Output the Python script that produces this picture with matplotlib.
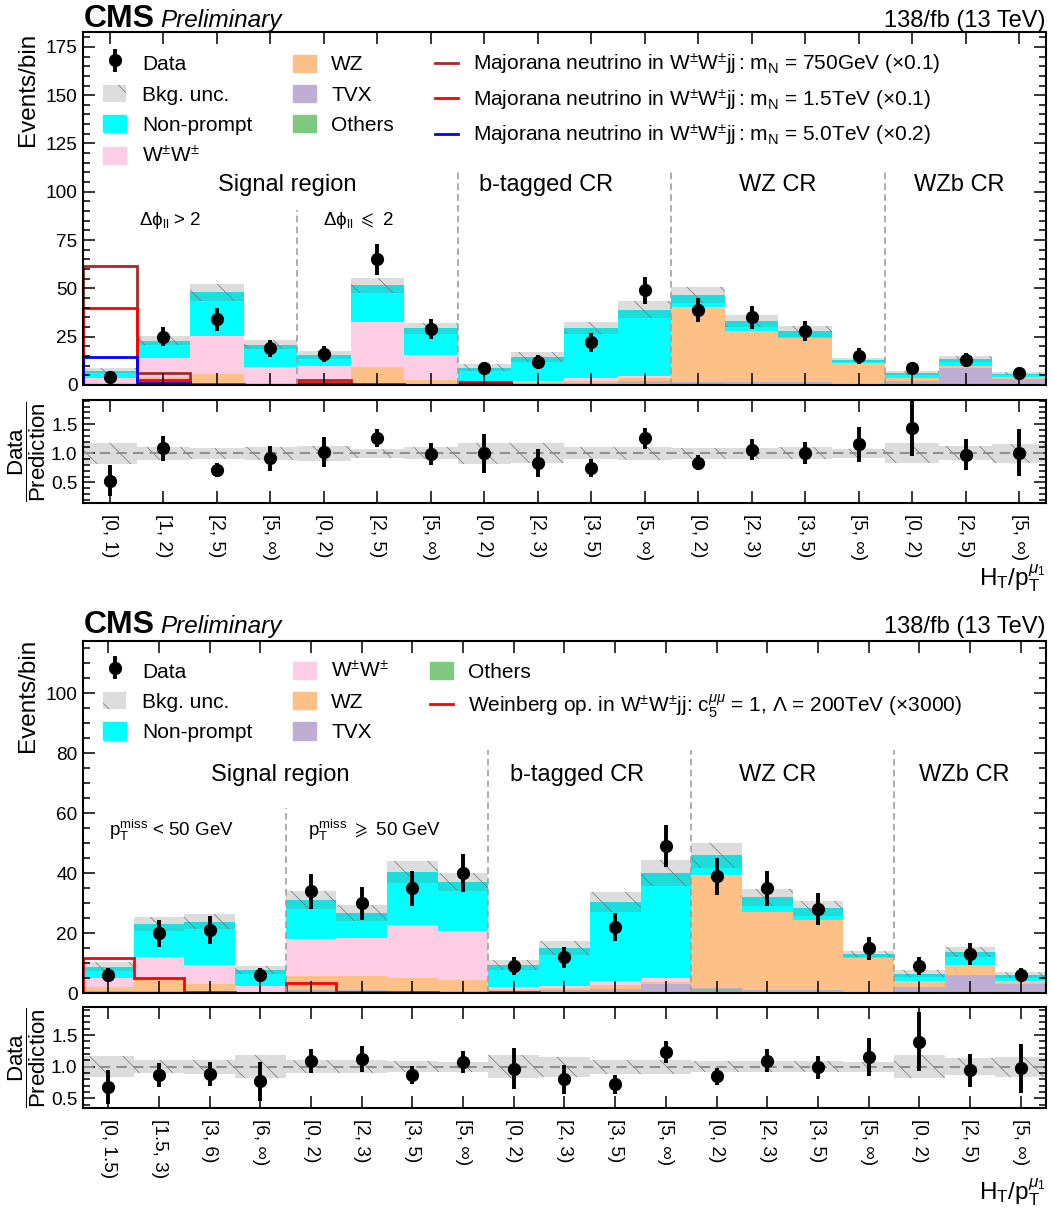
import numpy as np
import matplotlib
matplotlib.use("Agg")
import matplotlib.pyplot as plt
import matplotlib.ticker as mticker
from matplotlib.legend_handler import HandlerBase
from matplotlib.patches import Patch
from matplotlib.lines import Line2D
from matplotlib.transforms import blended_transform_factory

plt.rcParams["font.family"] = ["Liberation Sans", "DejaVu Sans"]
plt.rcParams["mathtext.fontset"] = "custom"
plt.rcParams["mathtext.rm"] = "Liberation Sans"
plt.rcParams["mathtext.it"] = "Liberation Sans:italic"
plt.rcParams["mathtext.bf"] = "Liberation Sans:bold"
plt.rcParams["mathtext.sf"] = "Liberation Sans"
plt.rcParams["mathtext.fallback"] = "stix"
plt.rcParams["hatch.linewidth"] = 0.5

# ---------------- Majorana neutrino selection ----------------
maj_bins = ["[0, 1)", "[1, 2)", "[2, 5)", "[5, ∞)", "[0, 2)", "[2, 5)", "[5, ∞)",
            "[0, 2)", "[2, 3)", "[3, 5)", "[5, ∞)", "[0, 2)", "[2, 3)", "[3, 5)", "[5, ∞)",
            "[0, 2)", "[2, 5)", "[5, ∞)"]
maj_others = [0.1, 0.1, 0.1, 0.05, 0.1, 0.2, 0.1, 0.1, 0.1, 0.1, 0.2, 1.2, 0.3, 0.3, 0.1, 0.1, 0.2, 0.1]
maj_tvx = [0.1, 0.2, 0.2, 0.1, 0.3, 0.4, 0.2, 0.5, 0.8, 1.0, 2.0, 0.6, 1.0, 1.0, 0.5, 2.1, 8.4, 2.9]
maj_wz = [1.0, 4.0, 5.4, 1.05, 1.6, 8.6, 2.3, 0.3, 0.6, 1.2, 1.3, 38.3, 26.5, 23.0, 10.7, 1.4, 1.3, 1.3]
maj_ww = [2.6, 9.5, 19.9, 8.3, 7.8, 23.6, 12.9, 0.4, 0.7, 1.2, 1.2, 0.2, 0.2, 0.1, 0.1, 0.1, 0.1, 0.05]
maj_nonprompt = [3.7, 9.2, 22.4, 11.3, 5.9, 18.7, 13.8, 7.7, 12.3, 26.0, 34.3, 6.2, 5.0, 3.4, 1.6, 2.6, 3.3, 1.6]
maj_unc_rel = [0.18, 0.11, 0.09, 0.11, 0.13, 0.08, 0.10, 0.18, 0.17, 0.10, 0.11, 0.09, 0.09, 0.10, 0.08, 0.17, 0.12, 0.16]
maj_data = [4, 25, 34, 19, 16, 65, 29, 9, 12, 22, 49, 39, 35, 28, 15, 9, 13, 6]
maj_data_err = [2.0, 5.0, 5.8, 4.4, 4.0, 8.1, 5.4, 3.0, 3.5, 4.7, 7.0, 6.2, 5.9, 5.3, 3.9, 3.0, 3.6, 2.4]
sig_750 = [61.5, 6.0, 0.3, 0.1, 2.6, 0.5, 0.1, 1.0, 0.2, 0.1, 0.1, 0.1, 0.05, 0.05, 0.02, 0.05, 0.05, 0.02]
sig_1500 = [40.0, 2.6, 0.2, 0.05, 1.2, 0.3, 0.05, 1.7, 0.2, 0.1, 0.05, 0.05, 0.02, 0.02, 0.01, 0.02, 0.02, 0.01]
sig_5000 = [14.5, 0.9, 0.1, 0.02, 0.4, 0.1, 0.02, 0.5, 0.1, 0.05, 0.02, 0.02, 0.01, 0.01, 0.0, 0.01, 0.01, 0.0]

# ---------------- Weinberg operator selection ----------------
wbg_bins = ["[0, 1.5)", "[1.5, 3)", "[3, 6)", "[6, ∞)", "[0, 2)", "[2, 3)", "[3, 5)", "[5, ∞)",
            "[0, 2)", "[2, 3)", "[3, 5)", "[5, ∞)", "[0, 2)", "[2, 3)", "[3, 5)", "[5, ∞)",
            "[0, 2)", "[2, 5)", "[5, ∞)"]
wbg_others = [0.8, 0.5, 0.3, 0.1, 0.8, 0.6, 0.5, 0.3, 0.3, 0.2, 0.1, 0.2, 1.3, 0.3, 0.3, 0.1, 0.1, 0.1, 0.1]
wbg_tvx = [0.1, 0.2, 0.2, 0.1, 0.3, 0.4, 0.4, 0.4, 0.6, 0.8, 1.2, 2.8, 0.6, 0.7, 0.7, 0.5, 1.9, 6.0, 2.9]
wbg_wz = [1.3, 3.7, 2.5, 0.4, 4.8, 4.9, 4.3, 3.7, 0.5, 0.7, 1.5, 0.6, 37.3, 26.1, 23.3, 11.0, 1.9, 3.2, 0.9]
wbg_ww = [2.8, 7.8, 6.4, 1.9, 12.2, 12.4, 17.6, 16.4, 0.6, 0.7, 1.4, 1.6, 0.2, 0.1, 0.1, 0.1, 0.05, 0.05, 0.05]
wbg_nonprompt = [3.9, 10.9, 14.5, 5.3, 13.0, 8.4, 17.5, 16.4, 7.3, 12.6, 26.3, 34.8, 6.6, 4.8, 3.9, 1.3, 2.5, 4.4, 2.2]
wbg_unc_rel = [0.17, 0.10, 0.11, 0.18, 0.10, 0.10, 0.09, 0.08, 0.18, 0.16, 0.11, 0.11, 0.09, 0.09, 0.09, 0.08, 0.18, 0.13, 0.16]
wbg_data = [6, 20, 21, 6, 34, 30, 35, 40, 9, 12, 22, 49, 39, 35, 28, 15, 9, 13, 6]
wbg_data_err = [2.4, 4.5, 4.6, 2.4, 5.8, 5.5, 5.9, 6.3, 3.0, 3.5, 4.7, 7.0, 6.2, 5.9, 5.3, 3.9, 3.0, 3.6, 2.4]
sig_weinberg = [11.7, 5.2, 0.3, 0.1, 3.5, 0.6, 0.3, 0.2, 0.4, 0.2, 0.1, 0.1, 0.1, 0.05, 0.05, 0.02, 0.05, 0.05, 0.02]

C_OTHERS = "#7fc97f"
C_TVX = "#beaed4"
C_WZ = "#fdc086"
C_WW = "#fccde5"
C_NP = "#00ffff"
UNC_FACE = (0.46, 0.46, 0.46, 0.25)
UNC_HATCH = (0.45, 0.45, 0.45)

WW = r"W$^{\pm}$W$^{\pm}$"
XLABEL = r"H$_{\rm T}$/p$_{\rm T}^{\mu_{1}}$"

fig = plt.figure(figsize=(10.51, 12.16), dpi=100)


class DataHandler(HandlerBase):
    """Legend entry for data: marker with a vertical error bar."""

    def create_artists(self, legend, orig, xd, yd, width, height, fontsize, trans):
        x = xd + width / 2
        bar = Line2D([x, x], [yd - 0.05 * height, yd + 1.05 * height], color="black",
                     lw=2.8, transform=trans)
        mk = Line2D([x], [yd + height / 2], marker="o", color="black", ms=8.5, lw=0,
                    transform=trans)
        return [bar, mk]


def style_axis(ax):
    for s in ax.spines.values():
        s.set_linewidth(1.5)
    ax.tick_params(which="both", direction="in", top=True, right=True, width=1.1,
                   labelsize=13.7, pad=4)
    ax.tick_params(which="major", length=8.6)
    ax.tick_params(which="minor", length=5.0)
    ax.tick_params(axis="x", which="minor", bottom=False, top=False)


def draw_panel(rect_main, rect_ratio, labels, comps, unc_rel, data, err,
               ymax, ymajor, rlim, signals, regions, sublabels, dashes, handles):
    n = len(labels)
    edges = np.arange(n + 1)
    centers = edges[:-1] + 0.5
    ax = fig.add_axes(rect_main)
    rax = fig.add_axes(rect_ratio)

    # stacked backgrounds
    base = np.zeros(n)
    for vals, col in comps:
        vals = np.asarray(vals, float)
        ax.stairs(base + vals, edges, baseline=base.copy(), fill=True,
                  facecolor=col, edgecolor="none", lw=0)
        base = base + vals
    total = base
    unc = np.asarray(unc_rel) * total
    ax.stairs(total + unc, edges, baseline=total - unc, fill=True, facecolor=UNC_FACE,
              edgecolor=UNC_HATCH, hatch="\\", lw=0)

    # signal hypotheses
    for vals, col in signals:
        ax.stairs(vals, edges, color=col, lw=2.0)

    # observed data
    ax.errorbar(centers, data, yerr=err, fmt="o", color="black", ms=8.5,
                elinewidth=2.8, capsize=0, zorder=5)

    ax.set_xlim(0, n)
    ax.set_ylim(0, ymax)
    ax.set_xticks(centers)
    ax.tick_params(axis="x", labelbottom=False)
    ax.yaxis.set_major_locator(mticker.MultipleLocator(ymajor))
    ax.yaxis.set_minor_locator(mticker.MultipleLocator(5))
    style_axis(ax)

    tr = blended_transform_factory(ax.transData, ax.transAxes)
    for x, ytop in dashes:
        ax.plot([x, x], [0, ytop], transform=tr, color="#a0a0a0", lw=1.2,
                ls=(0, (4, 2.5)), zorder=1)
    for x, y, txt in regions:
        ax.text(x, y, txt, transform=tr, ha="center", va="center", fontsize=17)
    for x, y, txt in sublabels:
        ax.text(x, y, txt, transform=tr, ha="center", va="center", fontsize=13.5)

    ax.legend(handles=handles, loc="upper left", bbox_to_anchor=(0.021, 0.944),
              ncol=3, frameon=False, fontsize=15, handlelength=1.1, handleheight=0.9,
              handletextpad=0.75, columnspacing=1.95, labelspacing=0.5, borderpad=0.0,
              borderaxespad=0.0, handler_map={handles[0]: DataHandler()})

    # ratio panel
    data = np.asarray(data, float)
    rax.stairs(1 + np.asarray(unc_rel), edges, baseline=1 - np.asarray(unc_rel), fill=True,
               facecolor=UNC_FACE, edgecolor=UNC_HATCH, hatch="\\", lw=0)
    rax.axhline(1.0, color="#909090", lw=1.5, ls=(0, (5, 3)))
    rax.errorbar(centers, data / total, yerr=np.asarray(err) / total, fmt="o",
                 color="black", ms=8.5, elinewidth=2.8, capsize=0, zorder=5)
    rax.set_xlim(0, n)
    rax.set_ylim(*rlim)
    rax.set_xticks(centers)
    rax.set_xticklabels(labels, rotation=-90, fontsize=14.6, va="top", ha="center")
    rax.yaxis.set_major_locator(mticker.FixedLocator([0.5, 1.0, 1.5]))
    rax.yaxis.set_major_formatter(mticker.FormatStrFormatter("%.1f"))
    rax.yaxis.set_minor_locator(mticker.MultipleLocator(0.1))
    style_axis(rax)
    rax.tick_params(axis="x", pad=8)
    return ax, rax


def unc_patch():
    return Patch(facecolor=UNC_FACE, edgecolor=UNC_HATCH, hatch="\\", lw=0)


def build_handles(line_colors, labels):
    hs = [Line2D([0], [0], marker="o", color="black", lw=0), unc_patch(),
          Patch(color=C_NP), Patch(color=C_WW), Patch(color=C_WZ), Patch(color=C_TVX),
          Patch(color=C_OTHERS)]
    hs += [Line2D([0], [0], color=c, lw=2.0) for c in line_colors]
    for h, l in zip(hs, labels):
        h.set_label(l)
    return hs


# ---------- upper figure: Majorana neutrino ----------
maj_labels = ["Data", "Bkg. unc.", "Non-prompt", WW, "WZ", "TVX", "Others",
              r"Majorana neutrino in W$^{\pm}$W$^{\pm}$jj$\,$: m$_{\rm N}$ = 750GeV (×0.1)",
              r"Majorana neutrino in W$^{\pm}$W$^{\pm}$jj$\,$: m$_{\rm N}$ = 1.5TeV (×0.1)",
              r"Majorana neutrino in W$^{\pm}$W$^{\pm}$jj$\,$: m$_{\rm N}$ = 5.0TeV (×0.2)"]
maj_handles = build_handles(["#a52a2a", "#ff0000", "#0000ff"], maj_labels)

ax1, rax1 = draw_panel(
    [0.0790, 0.68339, 0.9162, 0.29030], [0.0790, 0.58660, 0.9162, 0.08446],
    maj_bins,
    [(maj_others, C_OTHERS), (maj_tvx, C_TVX), (maj_wz, C_WZ), (maj_ww, C_WW), (maj_nonprompt, C_NP)],
    maj_unc_rel, maj_data, maj_data_err, 182.7, 25, (0.153, 1.914),
    [(sig_750, "#a52a2a"), (sig_1500, "#ff0000"), (sig_5000, "#0000ff")],
    [(3.81, 0.567, "Signal region"), (8.65, 0.567, "b-tagged CR"), (12.99, 0.567, "WZ CR"),
     (16.37, 0.567, "WZb CR")],
    [(1.63, 0.467, r"Δϕ$_{\rm ll}$ > 2"), (5.14, 0.467, r"Δϕ$_{\rm ll}$ $\leqslant$ 2")],
    [(4, 0.496), (7, 0.603), (11, 0.603), (15, 0.603)],
    maj_handles)

# ---------- lower figure: Weinberg operator ----------
wbg_labels = ["Data", "Bkg. unc.", "Non-prompt", WW, "WZ", "TVX", "Others",
              r"Weinberg op. in W$^{\pm}$W$^{\pm}$jj: c$_{5}^{\mu\mu}$ = 1, Λ = 200TeV (×3000)"]
wbg_handles = build_handles(["#ff0000"], wbg_labels)

ax2, rax2 = draw_panel(
    [0.0790, 0.18314, 0.9162, 0.28997], [0.0790, 0.08857, 0.9162, 0.08355],
    wbg_bins,
    [(wbg_others, C_OTHERS), (wbg_tvx, C_TVX), (wbg_wz, C_WZ), (wbg_ww, C_WW), (wbg_nonprompt, C_NP)],
    wbg_unc_rel, wbg_data, wbg_data_err, 117.5, 20, (0.34, 1.95),
    [(sig_weinberg, "#ff0000")],
    [(3.89, 0.619, "Signal region"), (9.75, 0.619, "b-tagged CR"), (13.71, 0.619, "WZ CR"),
     (17.38, 0.619, "WZb CR")],
    [(1.74, 0.463, r"p$_{\rm T}^{\rm miss}$ < 50 GeV"),
     (5.76, 0.463, r"p$_{\rm T}^{\rm miss}$ $\geqslant$ 50 GeV")],
    [(4, 0.525), (8, 0.69), (12, 0.69), (16, 0.69)],
    wbg_handles)

# headers and axis titles
for rax, base_y, xl_y in ((rax1, 27, 585), (rax2, 633, 1200)):
    fig.text(84 / 1051, 1 - base_y / 1216, "CMS", fontsize=23, fontweight="bold",
             ha="left", va="baseline")
    fig.text(160 / 1051, 1 - base_y / 1216, "Preliminary", fontsize=17.5, style="italic",
             ha="left", va="baseline")
    fig.text(1046 / 1051, 1 - base_y / 1216, "138/fb (13 TeV)", fontsize=17,
             ha="right", va="baseline")
    fig.text(28 / 1051, 1 - (base_y + 6) / 1216, "Events/bin", rotation=90, fontsize=17.5,
             ha="center", va="top")
    rb = rax.get_position()
    fig.text(27 / 1051, (rb.y0 + rb.y1) / 2, r"$\dfrac{\rm Data}{\rm Prediction}$",
             rotation=90, fontsize=16, ha="center", va="center")
    fig.text(1046 / 1051, 1 - xl_y / 1216, XLABEL, fontsize=17.5, ha="right", va="baseline")

fig.savefig("out.png", dpi=100)
